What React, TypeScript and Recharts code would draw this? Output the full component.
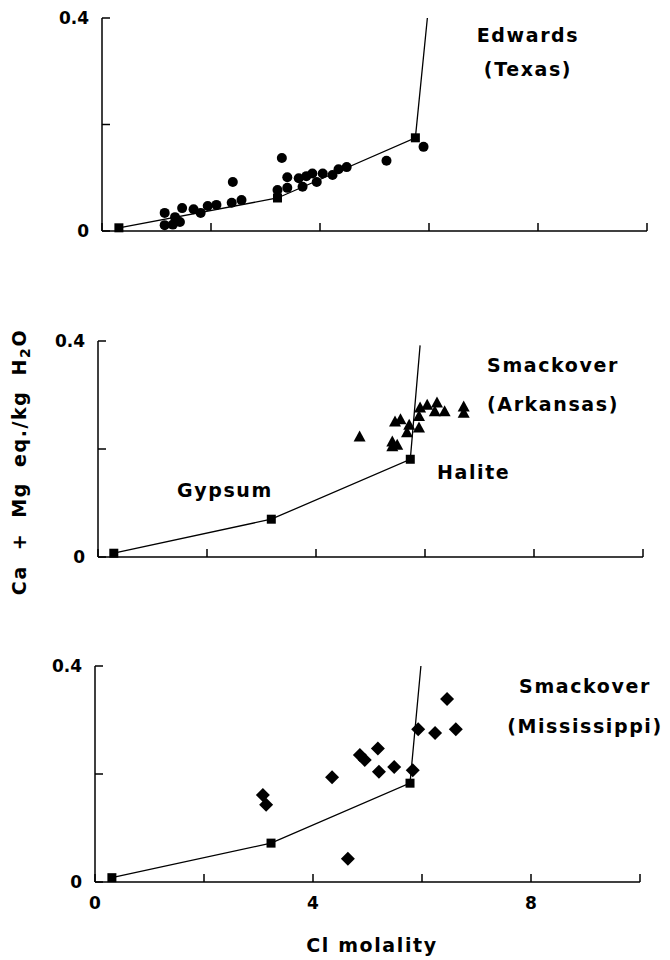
import React from 'react';
import { ComposedChart, Scatter, XAxis, YAxis } from 'recharts';

// ---------- data ----------
const xTicks = [0, 2, 4, 6, 8, 10];
const xTickLabels = ['0', '', '4', '', '8', ''];
const yTicks = [0, 0.2, 0.4];
const yTickLabels = ['0', '', '0.4'];

// model evaporation path (gypsum -> halite), per panel as drawn
const edwardsModel = [
  { x: 0.31, y: 0.006 },
  { x: 3.22, y: 0.062 },
  { x: 5.75, y: 0.175 },
  { x: 5.97, y: 0.4 },
];
const arkansasModel = [
  { x: 0.29, y: 0.007 },
  { x: 3.18, y: 0.07 },
  { x: 5.73, y: 0.181 },
  { x: 5.91, y: 0.392 },
];
const mississippiModel = [
  { x: 0.31, y: 0.008 },
  { x: 3.23, y: 0.072 },
  { x: 5.78, y: 0.183 },
  { x: 5.98, y: 0.4 },
];

const edwardsSamples = [
  { x: 1.15, y: 0.034 }, { x: 1.15, y: 0.011 }, { x: 1.3, y: 0.012 }, { x: 1.43, y: 0.017 },
  { x: 1.47, y: 0.043 }, { x: 1.34, y: 0.026 }, { x: 1.68, y: 0.041 }, { x: 1.81, y: 0.034 },
  { x: 1.94, y: 0.047 }, { x: 2.1, y: 0.049 }, { x: 2.38, y: 0.053 }, { x: 2.56, y: 0.058 },
  { x: 2.4, y: 0.092 }, { x: 3.3, y: 0.137 }, { x: 3.22, y: 0.077 }, { x: 3.4, y: 0.101 },
  { x: 3.4, y: 0.081 }, { x: 3.61, y: 0.099 }, { x: 3.68, y: 0.083 }, { x: 3.75, y: 0.103 },
  { x: 3.86, y: 0.108 }, { x: 3.94, y: 0.092 }, { x: 4.05, y: 0.108 }, { x: 4.23, y: 0.105 },
  { x: 4.34, y: 0.116 }, { x: 4.49, y: 0.12 }, { x: 5.22, y: 0.132 }, { x: 5.9, y: 0.158 },
];

const arkansasSamples = [
  { x: 4.8, y: 0.222 }, { x: 5.45, y: 0.25 }, { x: 5.55, y: 0.254 }, { x: 5.71, y: 0.244 },
  { x: 5.67, y: 0.23 }, { x: 5.4, y: 0.213 }, { x: 5.49, y: 0.207 }, { x: 5.4, y: 0.204 },
  { x: 5.89, y: 0.239 }, { x: 5.89, y: 0.26 }, { x: 5.91, y: 0.276 }, { x: 6.04, y: 0.281 },
  { x: 6.22, y: 0.285 }, { x: 6.36, y: 0.269 }, { x: 6.18, y: 0.269 }, { x: 6.71, y: 0.278 },
  { x: 6.71, y: 0.266 },
];

const mississippiSamples = [
  { x: 3.08, y: 0.161 }, { x: 3.14, y: 0.143 }, { x: 4.35, y: 0.194 }, { x: 4.64, y: 0.043 },
  { x: 4.86, y: 0.235 }, { x: 4.95, y: 0.226 }, { x: 5.19, y: 0.247 }, { x: 5.21, y: 0.204 },
  { x: 5.49, y: 0.213 }, { x: 5.83, y: 0.207 }, { x: 5.93, y: 0.283 }, { x: 6.24, y: 0.276 },
  { x: 6.46, y: 0.339 }, { x: 6.62, y: 0.283 },
];

// ---------- styling ----------
const FONT = '"DejaVu Sans", sans-serif';
const INK = '#000';

const CircleShape = (p: any) => <circle cx={p.cx} cy={p.cy} r={5} fill={INK} />;
const SquareShape = (p: any) => (
  <rect x={p.cx - 4.5} y={p.cy - 4.5} width={9} height={9} fill={INK} />
);
const TriangleShape = (p: any) => (
  <polygon
    points={`${p.cx},${p.cy - 6.5} ${p.cx - 6},${p.cy + 4.5} ${p.cx + 6},${p.cy + 4.5}`}
    fill={INK}
  />
);
const DiamondShape = (p: any) => (
  <polygon
    points={`${p.cx},${p.cy - 7} ${p.cx + 7},${p.cy} ${p.cx},${p.cy + 7} ${p.cx - 7},${p.cy}`}
    fill={INK}
  />
);
const NoShape = () => <g />;

const tickStyle = { fill: INK, fontSize: 17, fontFamily: FONT, fontWeight: 'bold' as const };

type PanelProps = {
  top: number;
  plotLeft: number;
  plotRight: number;
  marginTop: number;
  plotHeight: number;
  xAxisHeight: number;
  model: { x: number; y: number }[];
  samples: { x: number; y: number }[];
  shape: any;
  showXLabels: boolean;
};

function Panel(props: PanelProps) {
  const { top, plotLeft, plotRight, marginTop, plotHeight, xAxisHeight, model, samples, shape, showXLabels } = props;
  const yAxisWidth = 60;
  const height = marginTop + plotHeight + xAxisHeight;
  return (
    <div style={{ position: 'absolute', left: 0, top }}>
      <ComposedChart
        width={670}
        height={height}
        margin={{ top: marginTop, right: 670 - plotRight, bottom: 0, left: plotLeft - yAxisWidth }}
      >
        <XAxis
          type="number"
          dataKey="x"
          domain={[0, 10]}
          ticks={xTicks}
          interval={0}
          height={xAxisHeight}
          tickSize={-8}
          tickMargin={23}
          axisLine={{ stroke: INK, strokeWidth: 1.5 }}
          tickLine={{ stroke: INK, strokeWidth: 1.5 }}
          tick={tickStyle}
          tickFormatter={(v: number) => (showXLabels ? xTickLabels[xTicks.indexOf(v)] ?? '' : '')}
        />
        <YAxis
          type="number"
          dataKey="y"
          domain={[0, 0.4]}
          ticks={yTicks}
          interval={0}
          width={yAxisWidth}
          tickSize={-8}
          tickMargin={21}
          axisLine={{ stroke: INK, strokeWidth: 1.5 }}
          tickLine={{ stroke: INK, strokeWidth: 1.5 }}
          tick={tickStyle}
          tickFormatter={(v: number) => yTickLabels[yTicks.indexOf(v)] ?? ''}
        />
        <Scatter
          data={model}
          line={{ stroke: INK, strokeWidth: 1.3 }}
          shape={NoShape}
          isAnimationActive={false}
        />
        <Scatter data={model.slice(0, 3)} shape={SquareShape} isAnimationActive={false} />
        <Scatter data={samples} shape={shape} isAnimationActive={false} />
      </ComposedChart>
    </div>
  );
}

const labelStyle: React.CSSProperties = {
  fontFamily: FONT,
  fontWeight: 'bold',
  fontSize: 19,
  letterSpacing: 1.6,
  fill: INK,
};

export default function App() {
  return (
    <div style={{ position: 'absolute', left: 0, top: 0, width: 670, height: 960, background: '#fff' }}>
      <Panel
        top={0}
        plotLeft={102}
        plotRight={647}
        marginTop={18}
        plotHeight={213}
        xAxisHeight={30}
        model={edwardsModel}
        samples={edwardsSamples}
        shape={CircleShape}
        showXLabels={false}
      />
      <Panel
        top={320}
        plotLeft={98}
        plotRight={643}
        marginTop={21}
        plotHeight={216}
        xAxisHeight={30}
        model={arkansasModel}
        samples={arkansasSamples}
        shape={TriangleShape}
        showXLabels={false}
      />
      <Panel
        top={640}
        plotLeft={95}
        plotRight={640}
        marginTop={26}
        plotHeight={216}
        xAxisHeight={45}
        model={mississippiModel}
        samples={mississippiSamples}
        shape={DiamondShape}
        showXLabels={true}
      />
      <svg
        width={670}
        height={960}
        style={{ position: 'absolute', left: 0, top: 0, pointerEvents: 'none' }}
      >
        <text x={528} y={42} textAnchor="middle" style={labelStyle}>Edwards</text>
        <text x={528} y={76} textAnchor="middle" style={labelStyle}>(Texas)</text>
        <text x={553} y={372} textAnchor="middle" style={labelStyle}>Smackover</text>
        <text x={553} y={411} textAnchor="middle" style={labelStyle}>(Arkansas)</text>
        <text x={437} y={479} textAnchor="start" style={labelStyle}>Halite</text>
        <text x={177} y={497} textAnchor="start" style={labelStyle}>Gypsum</text>
        <text x={585} y={693} textAnchor="middle" style={labelStyle}>Smackover</text>
        <text x={585} y={733} textAnchor="middle" style={labelStyle}>(Mississippi)</text>
        <text x={372} y={952} textAnchor="middle" style={labelStyle}>Cl molality</text>
        <text
          transform="translate(26, 462) rotate(-90)"
          textAnchor="middle"
          style={labelStyle}
        >
          <tspan>Ca</tspan>
          <tspan dx={15}>+</tspan>
          <tspan dx={15}>Mg</tspan>
          <tspan dx={15}>eq./kg</tspan>
          <tspan dx={15}>H</tspan>
          <tspan fontSize={14} dy={4}>2</tspan>
          <tspan dy={-4}>O</tspan>
        </text>
      </svg>
    </div>
  );
}
